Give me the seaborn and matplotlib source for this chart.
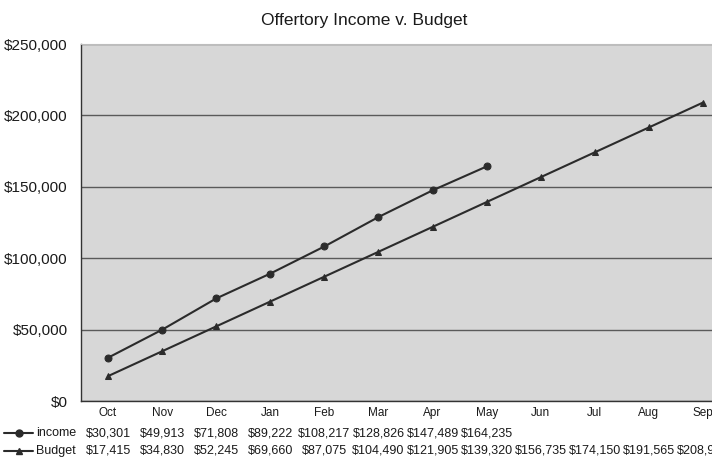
import matplotlib
matplotlib.use("Agg")
import matplotlib.pyplot as plt
from matplotlib.lines import Line2D
from matplotlib.ticker import FuncFormatter
import pandas as pd
import seaborn as sns

months = ["Oct", "Nov", "Dec", "Jan", "Feb", "Mar", "Apr", "May", "Jun", "Jul", "Aug", "Sep"]
income = [30301, 49913, 71808, 89222, 108217, 128826, 147489, 164235]
budget = [17415, 34830, 52245, 69660, 87075, 104490, 121905, 139320, 156735, 174150, 191565, 208980]

df_inc = pd.DataFrame({"pos": range(len(income)), "value": income, "series": "income"})
df_bud = pd.DataFrame({"pos": range(len(budget)), "value": budget, "series": "Budget"})
df = pd.concat([df_inc, df_bud], ignore_index=True)

sns.set_style("white")
plt.rcParams["font.family"] = ["Liberation Sans", "DejaVu Sans"]

fig = plt.figure(figsize=(7.12, 4.59), dpi=100)
ax = fig.add_axes([81 / 712, 58 / 459, 649 / 712, 357 / 459])
ax.set_facecolor("#d7d7d7")

line_col = "#2b2b2b"
sns.lineplot(data=df, x="pos", y="value", hue="series", style="series",
             markers={"income": "o", "Budget": "^"}, dashes=False,
             palette={"income": line_col, "Budget": line_col},
             markersize=5, markeredgecolor=line_col, linewidth=1.5,
             legend=False, ax=ax)

ax.set_xlim(-0.5, 11.5)
ax.set_ylim(0, 250000)
ax.set_yticks(range(0, 250001, 50000))
ax.yaxis.set_major_formatter(FuncFormatter(lambda v, p: f"${v:,.0f}"))
ax.yaxis.grid(True, color="#5a5a5a", linewidth=1)
ax.set_axisbelow(True)
ax.tick_params(axis="y", length=0, pad=9.5, labelsize=11, labelcolor="#1a1a1a")
ax.set_xticks(range(len(months)))
ax.set_xticklabels(months)
ax.tick_params(axis="x", length=0, pad=4, labelsize=8.5, labelcolor="#1a1a1a")
ax.set_xlabel("")
ax.set_ylabel("")

for side in ["left", "bottom"]:
    ax.spines[side].set_color("#333333")
    ax.spines[side].set_linewidth(1)
ax.spines["top"].set_color("#bdbdbd")
ax.spines["right"].set_visible(False)

fig.text(364 / 712, 1 - 20 / 459, "Offertory Income v. Budget", ha="center", va="center",
         fontsize=12.5, color="#1a1a1a")

# data table under the axis
trans = ax.get_xaxis_transform()
for i, v in enumerate(income):
    ax.text(i, -0.09, f"${v:,}", transform=trans, ha="center", va="center",
            fontsize=9, color="#1a1a1a", clip_on=False)
for i, v in enumerate(budget):
    ax.text(i, -0.14, f"${v:,}", transform=trans, ha="center", va="center",
            fontsize=9, color="#1a1a1a", clip_on=False)

# legend keys in the table
for ypix, mk, label in [(433, "o", "income"), (451, "^", "Budget")]:
    yf = 1 - ypix / 459
    fig.add_artist(Line2D([4 / 712, 33 / 712], [yf, yf], color=line_col, lw=1.5,
                          transform=fig.transFigure))
    fig.add_artist(Line2D([19 / 712], [yf], marker=mk, markersize=5, color=line_col,
                          transform=fig.transFigure))
    fig.text(36 / 712, yf, label, ha="left", va="center", fontsize=9, color="#1a1a1a")

fig.savefig("out.png", dpi=100)
